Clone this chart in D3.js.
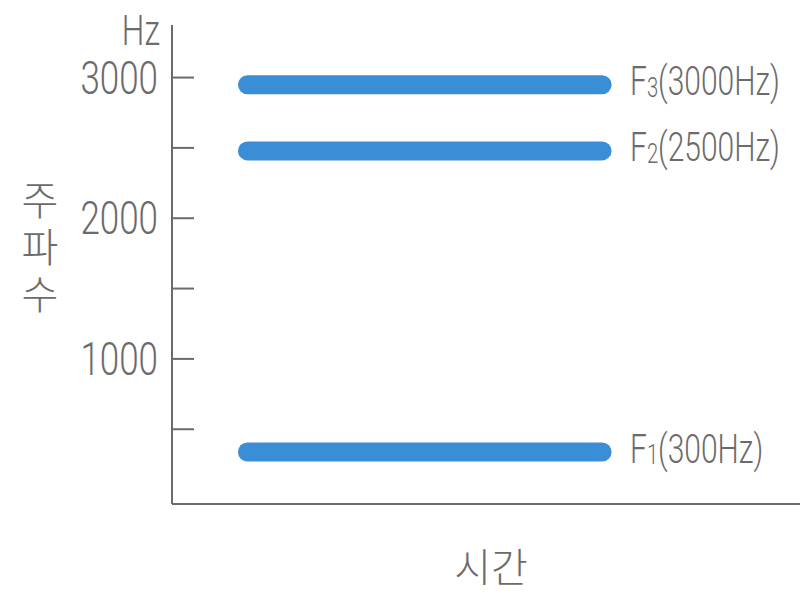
<!DOCTYPE html>
<html><head><meta charset="utf-8">
<script src="https://cdn.jsdelivr.net/npm/d3@7"></script>
<style>body{margin:0;background:#fff}svg{display:block}</style>
</head><body>
<svg id="c" width="804" height="594"></svg>
<script>
// ---- data ----
const formantNames = ["F", "F", "F"];
const formantIndex = ["3", "2", "1"];
const formantLabelHz = ["(3000Hz)", "(2500Hz)", "(300Hz)"];
const formantDrawn = [2945, 2475, 335];   // drawn heights (Hz)
const timeStart = [10.5, 10.5, 10.5];
const timeEnd = [70, 70, 70];
const yTicks = [500, 1000, 1500, 2000, 2500, 3000];
const yTickLabels = ["", "1000", "", "2000", "", "3000"];
const yUnit = "Hz";
const yTitle = "주파수";
const xTitle = "시간";

const svg = d3.select("#c");
const mLeft = 172, mBottom = 504, mTop = 25, mRight = 800;
const y = d3.scaleLinear().domain([-35, 3370]).range([mBottom, mTop]);
const x = d3.scaleLinear().domain([0, 100]).range([mLeft, mRight]);
const grey = "#6b6b6b";
const latin = "Roboto, 'Liberation Sans', sans-serif";
const sx = 0.76;

// axes
const yAxis = d3.axisLeft(y).tickValues(yTicks).tickSize(-22).tickFormat("");
const gy = svg.append("g").attr("transform", `translate(${mLeft},0)`).call(yAxis);
gy.select(".domain").remove();
gy.selectAll(".tick line").attr("stroke", grey).attr("stroke-width", 2);
svg.append("line").attr("x1", mLeft).attr("x2", mLeft).attr("y1", mTop).attr("y2", mBottom)
  .attr("stroke", grey).attr("stroke-width", 2);
svg.append("line").attr("x1", mLeft).attr("x2", mRight).attr("y1", mBottom).attr("y2", mBottom)
  .attr("stroke", grey).attr("stroke-width", 2);

// tick labels
yTicks.forEach((t, i) => {
  if (!yTickLabels[i]) return;
  svg.append("g").attr("transform", `translate(158,${y(t) + 1}) scale(${sx},1)`)
    .append("text").attr("text-anchor", "end").attr("dominant-baseline", "central")
    .attr("font-family", latin).attr("font-weight", 300).attr("font-size", 46)
    .attr("fill", grey).text(yTickLabels[i]);
});
svg.append("g").attr("transform", `translate(160,30) scale(${sx},1)`)
  .append("text").attr("text-anchor", "end").attr("dominant-baseline", "central")
  .attr("font-family", latin).attr("font-weight", 300).attr("font-size", 42)
  .attr("fill", grey).text(yUnit);

// bars
const barH = 19;
svg.selectAll("rect.bar").data(formantDrawn).join("rect").attr("class", "bar")
  .attr("x", (d, i) => x(timeStart[i]))
  .attr("width", (d, i) => x(timeEnd[i]) - x(timeStart[i]))
  .attr("y", d => y(d) - barH / 2).attr("height", barH)
  .attr("rx", barH / 2).attr("fill", "#3a8ed6");

// formant labels
formantDrawn.forEach((d, i) => {
  const t = svg.append("g").attr("transform", `translate(630,${y(d) - 3}) scale(0.75,1)`)
    .append("text").attr("dominant-baseline", "central")
    .attr("font-family", latin).attr("font-weight", 300).attr("font-size", 40).attr("fill", grey);
  t.append("tspan").text(formantNames[i]);
  t.append("tspan").attr("font-size", 27).attr("dy", 6).text(formantIndex[i]);
  t.append("tspan").attr("font-size", 40).attr("dy", -6).text(formantLabelHz[i]);
});

// titles
svg.append("text").attr("x", 40).attr("y", 250)
  .attr("writing-mode", "vertical-rl")
  .attr("text-anchor", "middle")
  .attr("letter-spacing", 7)
  .attr("font-family", "'Noto Sans CJK KR', sans-serif").attr("font-weight", 300)
  .attr("font-size", 40).attr("fill", grey).text(yTitle);
svg.append("text").attr("x", 491).attr("y", 565)
  .attr("text-anchor", "middle").attr("dominant-baseline", "central")
  .attr("font-family", "'Noto Sans CJK KR', sans-serif").attr("font-weight", 300)
  .attr("font-size", 40).attr("fill", grey).text(xTitle);
</script>
</body></html>
